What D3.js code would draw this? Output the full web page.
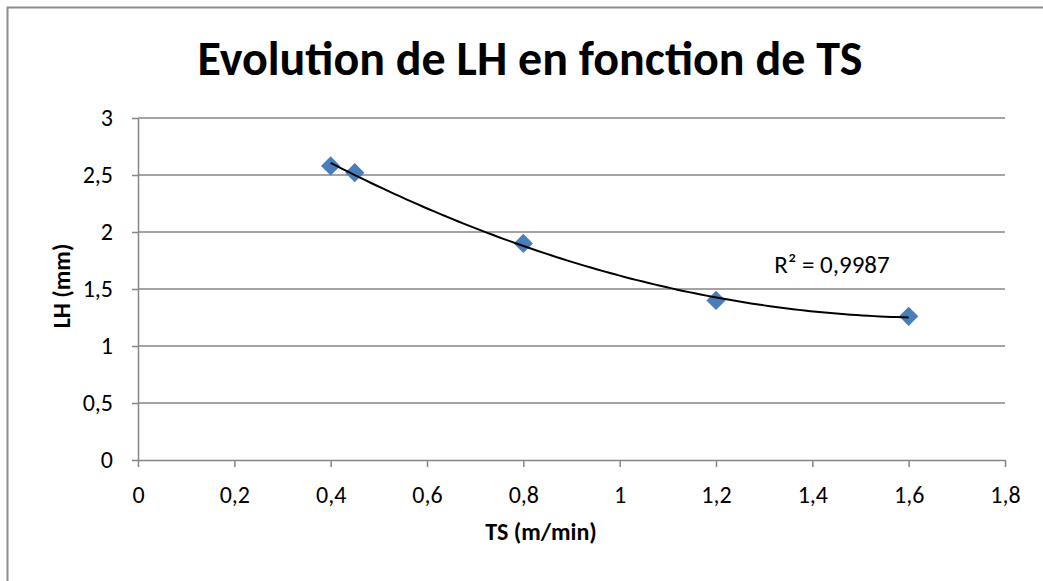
<!DOCTYPE html>
<html>
<head>
<meta charset="utf-8">
<script src="https://cdn.jsdelivr.net/npm/d3@7"></script>
<style>
  html, body { margin: 0; padding: 0; background: #fff; }
  svg { display: block; }
  text { font-family: Calibri, Carlito, Lato, "Open Sans", sans-serif; fill: #000; }
</style>
</head>
<body>
<svg id="chart" width="1043" height="581"></svg>
<script>
// Measurements: traverse speed TS (m/min) against LH (mm)
const tsValues = [0.4, 0.45, 0.8, 1.2, 1.6];
const lhValues = [2.58, 2.52, 1.90, 1.40, 1.26];

const xTicks = [0, 0.2, 0.4, 0.6, 0.8, 1, 1.2, 1.4, 1.6, 1.8];
const yTicks = [0, 0.5, 1, 1.5, 2, 2.5, 3];

const titleText = "Evolution de LH en fonction de TS";
const xLabel = "TS (m/min)";
const yLabel = "LH (mm)";
const r2Label = "R² = 0,9987";

const svg = d3.select("#chart");
const W = 1043, H = 581;
const plot = { left: 138, right: 1005, top: 118, bottom: 460 };

const x = d3.scaleLinear().domain([0, 1.8]).range([plot.left, plot.right]);
const y = d3.scaleLinear().domain([0, 3]).range([plot.bottom, plot.top]);
const fmt = d => String(d).replace(".", ",");
const FONT = "Calibri, Carlito, Lato, 'Open Sans', sans-serif";

// outer chart frame
svg.append("rect")
  .attr("x", 7.5).attr("y", 7.5)
  .attr("width", W + 10).attr("height", H + 10)
  .attr("fill", "#fff").attr("stroke", "#8c8c8c").attr("stroke-width", 2);

// title
svg.append("text")
  .attr("x", 530).attr("y", 75)
  .attr("text-anchor", "middle")
  .attr("font-weight", "bold")
  .attr("font-size", 48)
  .attr("textLength", 665)
  .attr("lengthAdjust", "spacingAndGlyphs")
  .text(titleText);

// horizontal gridlines
svg.append("g")
  .selectAll("line")
  .data(yTicks.filter(d => d > 0))
  .join("line")
  .attr("x1", plot.left).attr("x2", plot.right)
  .attr("y1", d => y(d)).attr("y2", d => y(d))
  .attr("stroke", "#868686").attr("stroke-width", 1.5);

// y axis
const yAxis = svg.append("g")
  .attr("transform", `translate(${plot.left},0)`)
  .call(d3.axisLeft(y).tickValues(yTicks).tickFormat(fmt).tickSize(6).tickSizeOuter(0).tickPadding(19));
// x axis
const xAxis = svg.append("g")
  .attr("transform", `translate(0,${plot.bottom})`)
  .call(d3.axisBottom(x).tickValues(xTicks).tickFormat(fmt).tickSize(7).tickSizeOuter(0).tickPadding(19));

[yAxis, xAxis].forEach(a => {
  a.select(".domain").attr("stroke", "#868686").attr("stroke-width", 1.5);
  a.selectAll(".tick line").attr("stroke", "#868686").attr("stroke-width", 1.5);
  a.selectAll(".tick text")
    .attr("font-size", 24)
    .attr("font-family", FONT)
    .attr("fill", "#000");
});

// axis titles
svg.append("text")
  .attr("x", 541).attr("y", 540)
  .attr("text-anchor", "middle")
  .attr("font-weight", "bold").attr("font-size", 24)
  .text(xLabel);
svg.append("text")
  .attr("transform", "translate(70,286) rotate(-90)")
  .attr("text-anchor", "middle")
  .attr("font-weight", "bold").attr("font-size", 24)
  .text(yLabel);

// second-order polynomial trendline (least squares)
function polyFit2(xs, ys) {
  const n = xs.length;
  const s = [0, 0, 0, 0, 0], t = [0, 0, 0];
  for (let i = 0; i < n; i++) {
    for (let k = 0; k < 5; k++) s[k] += Math.pow(xs[i], k);
    for (let k = 0; k < 3; k++) t[k] += ys[i] * Math.pow(xs[i], k);
  }
  const A = [[s[0], s[1], s[2], t[0]], [s[1], s[2], s[3], t[1]], [s[2], s[3], s[4], t[2]]];
  for (let c = 0; c < 3; c++) {
    for (let r = c + 1; r < 3; r++) {
      const f = A[r][c] / A[c][c];
      for (let k = c; k < 4; k++) A[r][k] -= f * A[c][k];
    }
  }
  const b = [0, 0, 0];
  for (let r = 2; r >= 0; r--) {
    let v = A[r][3];
    for (let k = r + 1; k < 3; k++) v -= A[r][k] * b[k];
    b[r] = v / A[r][r];
  }
  return b;
}
const coef = polyFit2(tsValues, lhValues);
const fitAt = v => coef[0] + coef[1] * v + coef[2] * v * v;
const xMin = d3.min(tsValues), xMax = d3.max(tsValues);
const curveXs = d3.range(0, 101).map(i => xMin + (xMax - xMin) * i / 100);

// diamond markers
svg.append("g")
  .selectAll("path")
  .data(tsValues.map((v, i) => [v, lhValues[i]]))
  .join("path")
  .attr("d", d3.symbol().type(d3.symbolSquare).size(185))
  .attr("transform", d => `translate(${x(d[0])},${y(d[1])}) rotate(45)`)
  .attr("fill", "#4a7ebb");

svg.append("path")
  .datum(curveXs)
  .attr("d", d3.line().x(v => x(v)).y(v => y(fitAt(v))))
  .attr("fill", "none").attr("stroke", "#000").attr("stroke-width", 2);

// coefficient of determination label
svg.append("text")
  .attr("x", 832).attr("y", 273)
  .attr("text-anchor", "middle")
  .attr("font-size", 25)
  .text(r2Label);
</script>
</body>
</html>
